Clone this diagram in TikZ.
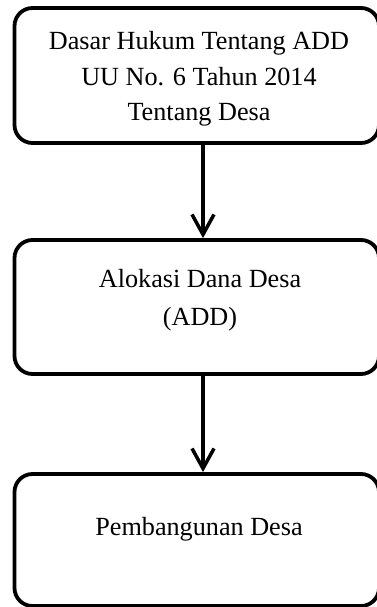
\documentclass[tikz,border=0pt]{standalone}
\usepackage{fontspec}
\setmainfont{Liberation Serif}
\usetikzlibrary{arrows.meta}
\begin{document}
\begin{tikzpicture}[x=1pt,y=-1pt,
  box/.style={draw=black, line width=3.8pt, rounded corners=18pt, minimum width=364.5pt, inner sep=0pt},
  lbl/.style={font=\fontsize{26.2}{36}\selectfont, inner sep=0pt, anchor=base},
  arr/.style={draw=black, line width=3.5pt, -{Straight Barb[length=20pt,width=22pt]}}]
\useasboundingbox (0,0) rectangle (377,607);
% boxes
\node[box, minimum height=135pt] (b1) at (196.75,75.5) {};
\node[box, minimum height=134pt] (b2) at (196.75,307) {};
\node[box, minimum height=132pt] (b3) at (196.75,540) {};
% texts
\node[lbl] (t1a) at (199,50) {Dasar Hukum Tentang ADD};
\node[lbl] (t1b) at (199,86) {UU No. 6 Tahun 2014};
\node[lbl] (t1c) at (199,121) {Tentang Desa};
\node[lbl] (t2a) at (200,287) {Alokasi Dana Desa};
\node[lbl] (t2b) at (200,325) {(ADD)};
\node[lbl] (t3a) at (199,535) {Pembangunan Desa};
% connectors
\draw[arr] ([xshift=6.25pt]b1.south) -- ([xshift=6.25pt]b2.north);
\draw[arr] ([xshift=6.25pt]b2.south) -- ([xshift=6.25pt]b3.north);
\end{tikzpicture}
\end{document}
